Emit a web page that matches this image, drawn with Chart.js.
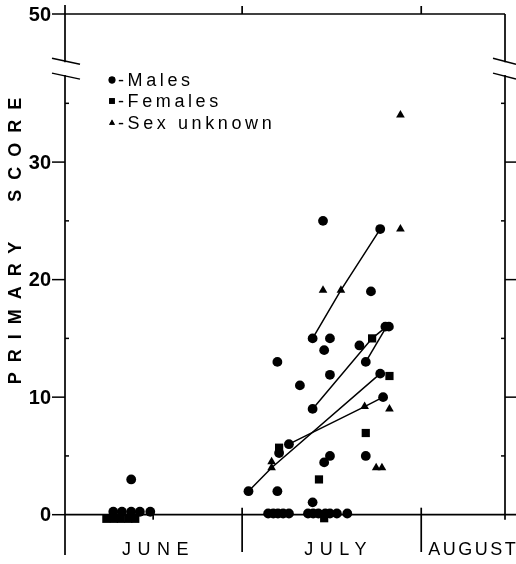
<!DOCTYPE html>
<html>
<head>
<meta charset="utf-8">
<script src="https://cdn.jsdelivr.net/npm/chart.js@4"></script>
<style>
  html, body { margin: 0; padding: 0; background: #fff; }
  #wrap { width: 516px; height: 564px; }
</style>
</head>
<body>
<div id="wrap"><canvas id="scoreChart" width="516" height="564"></canvas></div>
<script>
// Day counted from June 1 (July 1 = 30, August 1 = 61), score on the y axis
const months = ['JUNE', 'JULY', 'AUGUST'];
const monthStarts = [0, 30, 61];
const yTickValues = [0, 10, 20, 30];
const yMinorValues = [5, 15, 25, 35];
const yTopLabel = '50';
const yTopValue = 42.6;   // where "50" sits above the axis break
const legendLabels = ['-Males', '-Females', '-Sex unknown'];

const males = [
  [10.8, 3.0], [7.7, 0.25], [9.2, 0.25], [10.8, 0.25], [12.3, 0.25], [14.1, 0.25],
  [31.1, 2.0], [36.1, 13.0], [36.1, 2.0], [36.4, 5.25], [38.1, 6.0], [40.0, 11.0],
  [42.2, 15.0], [45.2, 15.0], [44.2, 14.0], [45.2, 11.9], [42.2, 9.0], [50.3, 14.4],
  [51.4, 13.0], [53.9, 12.0], [54.4, 10.0], [45.2, 5.0], [44.2, 4.45], [42.2, 1.05],
  [51.4, 5.0], [54.8, 16.0], [55.4, 16.0], [44.0, 25.0], [53.9, 24.3], [52.3, 19.0],
  [34.5, 0.1], [35.4, 0.1], [36.2, 0.1], [37.1, 0.1], [38.1, 0.1],
  [41.4, 0.1], [42.3, 0.1], [43.2, 0.1], [44.4, 0.1], [45.2, 0.1], [46.4, 0.1], [48.2, 0.1]
];
const females = [
  [6.5, -0.35], [7.8, -0.35], [9.0, -0.35], [10.3, -0.35], [11.5, -0.35],
  [36.4, 5.7], [43.3, 3.0], [52.5, 15.0], [55.5, 11.8], [51.4, 6.95], [44.2, -0.3]
];
const unknown = [
  [35.1, 4.5], [35.1, 4.0], [51.2, 9.2], [55.5, 9.0], [53.2, 4.0], [54.2, 4.0],
  [44.0, 19.1], [47.1, 19.1], [57.4, 34.0], [57.4, 24.3]
];
// repeated scores joined by lines
const trendLines = [
  [[42.2, 9.0], [52.5, 15.0], [55.0, 16.0]],
  [[51.4, 13.0], [55.0, 16.0]],
  [[31.1, 2.0], [35.1, 4.0], [53.9, 12.0]],
  [[38.1, 6.0], [51.2, 9.2], [54.4, 10.0]],
  [[42.2, 15.0], [47.1, 19.1], [53.9, 24.3]]
];

const toPts = arr => arr.map(p => ({ x: p[0], y: p[1] }));
const FONT = '"Liberation Sans", Arial, sans-serif';

const datasets = [
  { label: 'Males', data: toPts(males), pointStyle: 'circle', pointRadius: 4.9 },
  { label: 'Females', data: toPts(females), pointStyle: 'rect', pointRadius: 5.8 },
  { label: 'Sex unknown', data: toPts(unknown), pointStyle: 'triangle', pointRadius: 5 }
].map(d => Object.assign(d, { backgroundColor: '#000', borderColor: '#000', borderWidth: 0 }));

trendLines.forEach(function(line, i) {
  datasets.push({
    label: 'line' + i,
    data: toPts(line),
    showLine: true,
    pointRadius: 0,
    borderColor: '#000',
    borderWidth: 1.5
  });
});

// axes, break marks and all text are drawn here from the chart's scales
const frame = {
  id: 'frame',
  beforeDatasetsDraw(chart) {
    const ctx = chart.ctx;
    const xs = chart.scales.x, ys = chart.scales.y;
    const a = chart.chartArea;
    const X = v => xs.getPixelForValue(v);
    const Y = v => ys.getPixelForValue(v);
    const L = a.left, R = a.right, T = Y(yTopValue), Z = Y(0);
    const brkHi = Y(38.5), brkLo = Y(37.4);

    ctx.save();
    ctx.strokeStyle = '#000';
    ctx.lineWidth = 1.7;
    const seg = (x1, y1, x2, y2) => { ctx.beginPath(); ctx.moveTo(x1, y1); ctx.lineTo(x2, y2); ctx.stroke(); };

    // left axis
    seg(L, T - 9, L, brkHi);
    seg(L, brkLo, L, a.bottom - 2);
    // right axis
    seg(R, T, R, brkHi);
    seg(R, brkLo, R, Z + 5);
    // top
    seg(L, T, R, T);
    seg(X(monthStarts[1]), T, X(monthStarts[1]), T - 8);
    seg(X(monthStarts[2]), T, X(monthStarts[2]), T - 8);
    // zero line and month separators
    seg(L, Z, chart.width, Z);
    seg(X(monthStarts[1]), Z - 7, X(monthStarts[1]), a.bottom - 5);
    seg(X(monthStarts[2]), Z - 7, X(monthStarts[2]), a.bottom - 5);
    seg(X(14.6), Z, X(14.6), Z + 5);

    // break marks
    ctx.lineWidth = 1.5;
    [[brkHi - 4, brkHi + 2], [brkLo - 2, brkLo + 4]].forEach(function(b) {
      seg(L - 13, b[0], L + 15, b[1]);
      seg(R - 12, b[0], R + 11, b[1]);
    });

    // ticks
    ctx.lineWidth = 1.5;
    yTickValues.concat([yTopValue]).forEach(v => seg(L - 13, Y(v), L, Y(v)));
    yTickValues.slice(1).forEach(v => seg(R, Y(v), R + 11, Y(v)));
    yMinorValues.forEach(v => { seg(L, Y(v), L + 4, Y(v)); seg(R - 4, Y(v), R, Y(v)); });

    // tick labels
    ctx.fillStyle = '#000';
    ctx.font = 'bold 20px ' + FONT;
    ctx.textAlign = 'right';
    ctx.textBaseline = 'middle';
    yTickValues.forEach(v => ctx.fillText(String(v), L - 14, Y(v) + 1));
    ctx.fillText(yTopLabel, L - 14, T + 1);

    // y title
    ctx.save();
    ctx.translate(16, 241);
    ctx.rotate(-Math.PI / 2);
    ctx.font = 'bold 18px ' + FONT;
    ctx.letterSpacing = '10px';
    ctx.textAlign = 'center';
    ctx.fillText('PRIMARY  SCORE', 5, 0);
    ctx.restore();

    // month labels
    ctx.font = '18px ' + FONT;
    ctx.letterSpacing = '6.5px';
    ctx.textBaseline = 'middle';
    ctx.textAlign = 'center';
    ctx.fillText(months[0], X(15) + 3, 550);
    ctx.fillText(months[1], X(45.5) + 7, 550);
    ctx.letterSpacing = '2.5px';
    ctx.textAlign = 'left';
    ctx.fillText(months[2], X(monthStarts[2]) + 7, 550);

    // legend
    ctx.font = '18px ' + FONT;
    ctx.letterSpacing = '3.6px';
    ctx.textAlign = 'left';
    const lx = 112, ly = [80, 101, 123];
    const styles = ['circle', 'rect', 'triangle'];
    legendLabels.forEach(function(t, i) {
      Chart.helpers.drawPoint(ctx, { pointStyle: styles[i], radius: i === 1 ? 4 : 3.4, rotation: 0, borderWidth: 0 }, lx, ly[i]);
      ctx.fill();
      ctx.fillText(t, lx + 6, ly[i] + 1);
    });
    ctx.restore();
  }
};

new Chart(document.getElementById('scoreChart'), {
  type: 'scatter',
  data: { datasets: datasets },
  options: {
    responsive: false,
    animation: false,
    devicePixelRatio: 1,
    layout: { padding: { left: 65, right: 11, top: 14, bottom: 7 } },
    plugins: { legend: { display: false }, tooltip: { enabled: false } },
    scales: {
      x: { type: 'linear', min: -0.66, max: 75.5, display: false },
      y: { type: 'linear', min: -3.6, max: 42.6, display: false }
    }
  },
  plugins: [frame]
});
</script>
</body>
</html>
